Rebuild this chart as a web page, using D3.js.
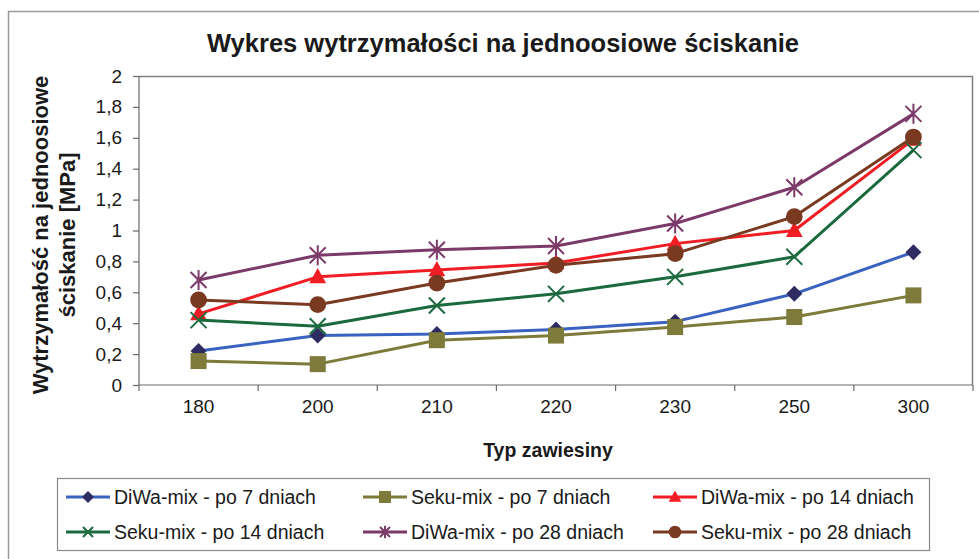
<!DOCTYPE html>
<html>
<head>
<meta charset="utf-8">
<script src="https://cdn.jsdelivr.net/npm/d3@7"></script>
<style>
  body { margin: 0; background: #fff; }
  text { font-family: "Liberation Sans", Arial, sans-serif; fill: #1a1a1a; }
</style>
</head>
<body>
<div id="chart"></div>
<script>
// categories (suspension type) and strength values [MPa]
const categories = ['180', '200', '210', '220', '230', '250', '300'];
const seriesNames = [
  'DiWa-mix - po 7 dniach', 'Seku-mix - po 7 dniach', 'DiWa-mix - po 14 dniach',
  'Seku-mix - po 14 dniach', 'DiWa-mix - po 28 dniach', 'Seku-mix - po 28 dniach'
];
const diwa7  = [0.22, 0.32, 0.33, 0.36, 0.41, 0.59, 0.86];
const seku7  = [0.155, 0.135, 0.29, 0.32, 0.375, 0.44, 0.58];
const diwa14 = [0.46, 0.70, 0.745, 0.79, 0.915, 1.0, 1.59];
const seku14 = [0.42, 0.38, 0.515, 0.59, 0.70, 0.83, 1.52];
const diwa28 = [0.68, 0.84, 0.875, 0.90, 1.045, 1.28, 1.755];
const seku28 = [0.55, 0.52, 0.66, 0.775, 0.85, 1.09, 1.605];
const yTicks = [0, 0.2, 0.4, 0.6, 0.8, 1, 1.2, 1.4, 1.6, 1.8, 2];

const W = 979, H = 559;
const plot = { left: 139, top: 76, right: 973, bottom: 385 };
const FONT = '"Liberation Sans", Arial, sans-serif';

const styles = [
  { line: '#3a62c0', marker: '#2e2a62', shape: 'diamond' },
  { line: '#7d7a3a', marker: '#7d7a3a', shape: 'square' },
  { line: '#f01e24', marker: '#f01e24', shape: 'triangle' },
  { line: '#1b6a3e', marker: '#1b6a3e', shape: 'x' },
  { line: '#7c3a68', marker: '#7c3a68', shape: 'star' },
  { line: '#7a3a22', marker: '#7a3a22', shape: 'circle' }
];
const allValues = [diwa7, seku7, diwa14, seku14, diwa28, seku28];

const svg = d3.select('#chart').append('svg')
  .attr('width', W).attr('height', H);

// outer chart frame
svg.append('rect')
  .attr('x', 8.5).attr('y', 11.5).attr('width', W + 10).attr('height', H + 10)
  .attr('fill', 'none').attr('stroke', '#9a9a9a').attr('stroke-width', 1.5);

const x = d3.scaleBand().domain(categories).range([plot.left, plot.right]);
const y = d3.scaleLinear().domain([0, 2]).range([plot.bottom, plot.top]);

// plot area frame (top / right)
svg.append('path')
  .attr('d', `M${plot.left},${plot.top + 0.5}H${plot.right - 0.5}V${plot.bottom}`)
  .attr('fill', 'none').attr('stroke', '#808080').attr('stroke-width', 1.5);

// y axis
const yAxis = svg.append('g')
  .attr('transform', `translate(${plot.left},0)`)
  .call(d3.axisLeft(y).tickValues(yTicks).tickSize(6).tickPadding(11)
    .tickFormat(d => String(d).replace('.', ',')));
yAxis.selectAll('path, line').attr('stroke', '#6a6a6a').attr('stroke-width', 1.2);
yAxis.select('.domain').attr('d', `M0,${plot.top}V${plot.bottom}`);
yAxis.selectAll('text').attr('font-size', 19).attr('font-family', FONT).attr('fill', '#1a1a1a');

// x axis: ticks at category boundaries
const xAxis = svg.append('g')
  .attr('transform', `translate(0,${plot.bottom})`)
  .call(d3.axisBottom(x).tickSize(0).tickPadding(15));
xAxis.select('.domain').attr('stroke', '#6a6a6a').attr('stroke-width', 1.2)
  .attr('d', `M${plot.left},0H${plot.right}`);
xAxis.selectAll('text').attr('font-size', 19).attr('font-family', FONT).attr('fill', '#1a1a1a');
xAxis.selectAll('.bound').data(categories.concat(['end']))
  .enter().append('line')
  .attr('x1', (d, i) => plot.left + i * x.bandwidth())
  .attr('x2', (d, i) => plot.left + i * x.bandwidth())
  .attr('y1', 0).attr('y2', 6)
  .attr('stroke', '#6a6a6a').attr('stroke-width', 1.2);

// marker drawing
function drawMarker(g, shape, color, s) {
  if (shape === 'diamond') {
    g.append('path').attr('d', `M0,${-s}L${s},0L0,${s}L${-s},0Z`).attr('fill', color);
  } else if (shape === 'square') {
    g.append('rect').attr('x', -s).attr('y', -s).attr('width', 2 * s).attr('height', 2 * s).attr('fill', color);
  } else if (shape === 'triangle') {
    g.append('path').attr('d', `M0,${-s * 1.1}L${s * 1.05},${s * 0.8}L${-s * 1.05},${s * 0.8}Z`).attr('fill', color);
  } else if (shape === 'circle') {
    g.append('circle').attr('r', s * 1.05).attr('fill', color);
  } else if (shape === 'x') {
    g.append('path').attr('d', `M${-s},${-s}L${s},${s}M${s},${-s}L${-s},${s}`)
      .attr('stroke', color).attr('stroke-width', 2);
  } else if (shape === 'star') {
    g.append('path').attr('d', `M${-s},${-s}L${s},${s}M${s},${-s}L${-s},${s}M0,${-s * 1.25}V${s * 1.25}`)
      .attr('stroke', color).attr('stroke-width', 2);
  }
}

const line = d3.line()
  .x((d, i) => x(categories[i]) + x.bandwidth() / 2)
  .y(d => y(d));

allValues.forEach((vals, si) => {
  const st = styles[si];
  const g = svg.append('g').attr('class', 'series');
  g.append('path').datum(vals)
    .attr('d', line).attr('fill', 'none')
    .attr('stroke', st.line).attr('stroke-width', 3).attr('stroke-linejoin', 'round');
  vals.forEach((v, i) => {
    const m = g.append('g')
      .attr('transform', `translate(${x(categories[i]) + x.bandwidth() / 2},${y(v)})`);
    drawMarker(m, st.shape, st.marker, 8);
  });
});

// title
svg.append('text')
  .attr('x', 503).attr('y', 52).attr('text-anchor', 'middle')
  .attr('font-size', 25.5).attr('font-weight', 'bold')
  .text('Wykres wytrzymałości na jednoosiowe ściskanie');

// axis titles
svg.append('text')
  .attr('x', 548).attr('y', 457).attr('text-anchor', 'middle')
  .attr('font-size', 19.5).attr('font-weight', 'bold')
  .text('Typ zawiesiny');

const yt = svg.append('text')
  .attr('transform', `translate(0,235) rotate(-90)`)
  .attr('text-anchor', 'middle').attr('font-size', 22).attr('font-weight', 'bold');
yt.append('tspan').attr('x', 0).attr('y', 48).text('Wytrzymałość na jednoosiowe');
yt.append('tspan').attr('x', 0).attr('y', 75).text('ściskanie [MPa]');

// legend
const legend = svg.append('g');
legend.append('rect')
  .attr('x', 57.5).attr('y', 478.5).attr('width', 872).attr('height', 72)
  .attr('fill', '#fff').attr('stroke', '#8a8a8a').attr('stroke-width', 1.2);
const textX = [114, 411, 701];
const rowY = [497, 532];
seriesNames.forEach((name, i) => {
  const st = styles[i];
  const tx = textX[i % 3], ly = rowY[Math.floor(i / 3)];
  const g = legend.append('g').attr('transform', `translate(${tx},${ly})`);
  g.append('line').attr('x1', -48).attr('x2', -4).attr('y1', 0).attr('y2', 0)
    .attr('stroke', st.line).attr('stroke-width', 3);
  const m = g.append('g').attr('transform', 'translate(-26,0)');
  drawMarker(m, st.shape, st.marker, st.shape === 'x' || st.shape === 'star' ? 5 : 6);
  g.append('text').attr('x', 0).attr('y', 7).attr('font-size', 19.5).text(name);
});
</script>
</body>
</html>
